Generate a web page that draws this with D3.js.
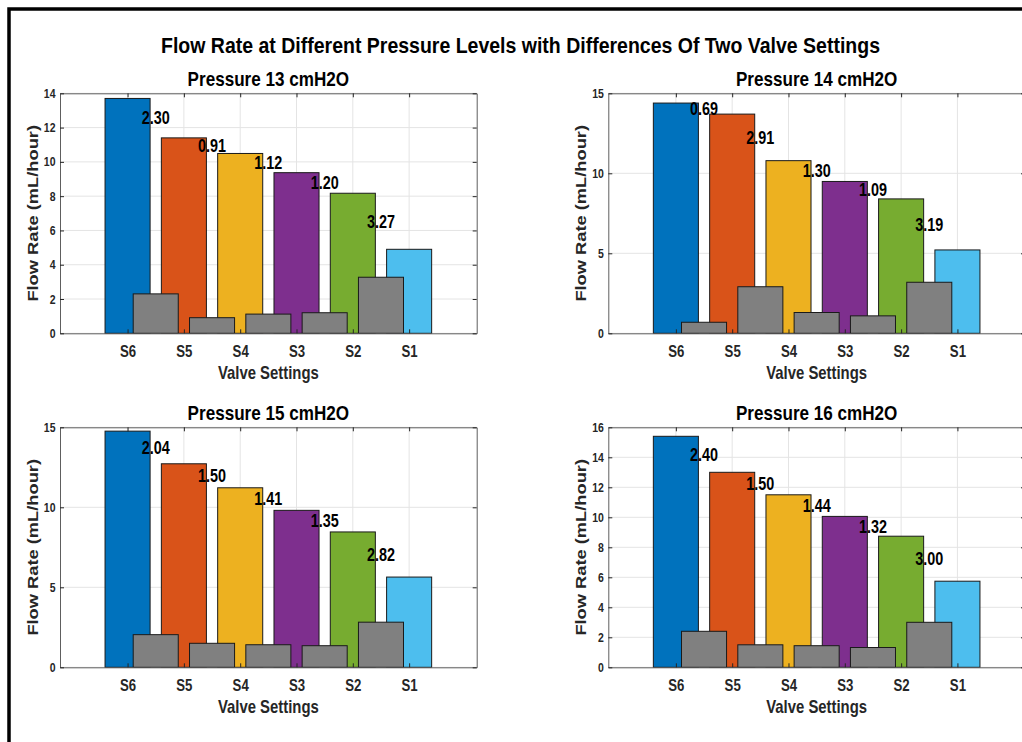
<!DOCTYPE html>
<html><head><meta charset="utf-8">
<script src="https://cdn.jsdelivr.net/npm/d3@7"></script>
<style>
body{margin:0;background:#fff}
svg{display:block;font-family:"Liberation Sans",Arial,sans-serif;font-weight:bold}
</style>
</head><body>
<svg id="c" width="1022" height="742"></svg>
<script>
// ---- data ----
const categories = ["S6", "S5", "S4", "S3", "S2", "S1"];
const pressures = [13, 14, 15, 16];
const flow13 = [13.70, 11.40, 10.49, 9.37, 8.17, 4.90];
const flow14 = [14.39, 13.70, 10.79, 9.49, 8.40, 5.21];
const flow15 = [14.76, 12.72, 11.22, 9.81, 8.46, 5.64];
const flow16 = [15.40, 13.00, 11.50, 10.06, 8.74, 5.74];
const yTicks13 = [0, 2, 4, 6, 8, 10, 12, 14];
const yTicks14 = [0, 5, 10, 15];
const yTicks15 = [0, 5, 10, 15];
const yTicks16 = [0, 2, 4, 6, 8, 10, 12, 14, 16];
const barColors = ["#0072BD", "#D95319", "#EDB120", "#7E2F8E", "#77AC30", "#4DBEEE"];
const diffColor = "#808080";
const mainTitle = "Flow Rate at Different Pressure Levels with Differences Of Two Valve Settings";
const xLabel = "Valve Settings";
const yLabel = "Flow Rate (mL/hour)";

// ---- layout ----
const svg = d3.select("#c");
const W = 416.7, H = 240;
const panels = [
  {p: pressures[0], vals: flow13, ticks: yTicks13, left: 60,    top: 93.3},
  {p: pressures[1], vals: flow14, ticks: yTicks14, left: 608.3, top: 93.3},
  {p: pressures[2], vals: flow15, ticks: yTicks15, left: 60,    top: 427.3},
  {p: pressures[3], vals: flow16, ticks: yTicks16, left: 608.3, top: 427.3}
];

function hText(parent, x, y, str, size, fill, sx, anchor) {
  return parent.append("text")
    .attr("transform", `translate(${x},${y}) scale(${sx},1)`)
    .attr("text-anchor", anchor || "middle")
    .attr("font-size", size)
    .attr("fill", fill)
    .text(str);
}

// frame
svg.append("path").attr("d", "M9,742V9H1022").attr("fill", "none")
  .attr("stroke", "#000").attr("stroke-width", 3.5);

// main title
svg.append("text").attr("x", 520.5).attr("y", 52.7).attr("text-anchor", "middle")
  .attr("font-size", 22.5).attr("fill", "#000")
  .attr("textLength", 719).attr("lengthAdjust", "spacingAndGlyphs")
  .text(mainTitle);

panels.forEach(pn => {
  const g = svg.append("g");
  const x = d3.scaleLinear().domain([-0.2, 7.2]).range([pn.left, pn.left + W]);
  const y = d3.scaleLinear().domain([0, d3.max(pn.ticks)]).range([pn.top + H, pn.top]);
  const pos = categories.map((c, i) => i + 1);

  // grid
  g.append("g").selectAll("line").data(pos).join("line")
    .attr("x1", d => x(d)).attr("x2", d => x(d))
    .attr("y1", pn.top).attr("y2", pn.top + H)
    .attr("stroke", "#e4e4e4").attr("stroke-width", 1);
  g.append("g").selectAll("line").data(pn.ticks).join("line")
    .attr("x1", pn.left).attr("x2", pn.left + W)
    .attr("y1", d => y(d)).attr("y2", d => y(d))
    .attr("stroke", "#e4e4e4").attr("stroke-width", 1);

  // flow bars
  g.append("g").selectAll("rect").data(pn.vals).join("rect")
    .attr("x", (d, i) => x(i + 1 - 0.4))
    .attr("width", (d, i) => x(i + 1.4) - x(i + 0.6))
    .attr("y", d => y(d))
    .attr("height", d => y(0) - y(d))
    .attr("fill", (d, i) => barColors[i])
    .attr("stroke", "#1a1a1a").attr("stroke-width", 1);

  // differences
  const diffs = d3.pairs(pn.vals).map(([a, b], i) => ({pos: i + 1.5, a, b, d: Math.round((a - b) * 100) / 100}));
  g.append("g").selectAll("rect").data(diffs).join("rect")
    .attr("x", d => x(d.pos - 0.4))
    .attr("width", d => x(d.pos + 0.4) - x(d.pos - 0.4))
    .attr("y", d => y(d.d))
    .attr("height", d => y(0) - y(d.d))
    .attr("fill", diffColor)
    .attr("stroke", "#1a1a1a").attr("stroke-width", 1);

  const lg = g.append("g");
  diffs.forEach(d => {
    hText(lg, x(d.pos), y((d.a + d.b) / 2), d.d.toFixed(2), 18, "#000", 0.8)
      .attr("dy", "0.35em");
  });

  // axes
  const axisColor = "#5e5e5e";
  const bx = g.append("g").attr("transform", `translate(0,${pn.top + H})`)
    .call(d3.axisBottom(x).tickValues(pos).tickFormat(d => categories[d - 1])
      .tickSizeInner(-4).tickSizeOuter(0).tickPadding(11.5));
  const tx = g.append("g").attr("transform", `translate(0,${pn.top})`)
    .call(d3.axisTop(x).tickValues(pos).tickFormat("").tickSizeInner(-4).tickSizeOuter(0));
  const ly = g.append("g").attr("transform", `translate(${pn.left},0)`)
    .call(d3.axisLeft(y).tickValues(pn.ticks).tickSizeInner(-4).tickSizeOuter(0).tickPadding(5));
  const ry = g.append("g").attr("transform", `translate(${pn.left + W},0)`)
    .call(d3.axisRight(y).tickValues(pn.ticks).tickFormat("").tickSizeInner(-4).tickSizeOuter(0));
  [bx, tx, ly, ry].forEach(a => {
    a.attr("font-family", null).attr("font-size", null).attr("color", axisColor);
    a.selectAll("line").attr("stroke", "#262626");
  });
  bx.selectAll("text").attr("font-size", 16.5).attr("fill", "#262626")
    .attr("transform", "scale(0.8,1)");
  ly.selectAll("text").attr("font-size", 12.5).attr("fill", "#262626")
    .attr("x", 0).attr("transform", "translate(-4.5,0) scale(0.84,1)");

  // axis labels
  hText(g, pn.left + W / 2, pn.top + H + 46, xLabel, 17.5, "#262626", 0.85);
  g.append("text")
    .attr("transform", `translate(${pn.left - 27.5},${pn.top + H / 2}) rotate(-90) scale(1,0.84)`)
    .attr("text-anchor", "middle").attr("dy", "0.35em")
    .attr("font-size", 18.3).attr("fill", "#262626")
    .text(yLabel);

  // subplot title
  hText(g, pn.left + W / 2, pn.top - 7.3, `Pressure ${pn.p} cmH2O`, 20, "#000", 0.855);
});
</script>
</body></html>
